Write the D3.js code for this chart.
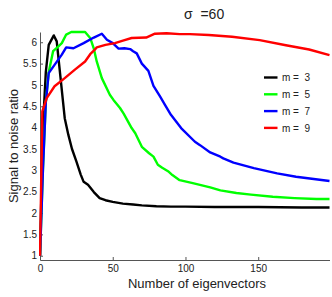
<!DOCTYPE html>
<html>
<head>
<meta charset="utf-8">
<script src="https://cdn.jsdelivr.net/npm/d3@7"></script>
<style>
  body { margin: 0; background: #fff; }
  svg { display: block; font-family: "Liberation Sans", Arial, sans-serif; }
</style>
</head>
<body>
<svg id="chart" width="332" height="297"></svg>
<script>
// series values (x = number of eigenvectors)
const m3X = [0, 2, 4, 6, 9.5, 11.5, 17, 19.5, 22, 25, 28, 30, 33, 37, 41, 45, 50, 57, 64, 70, 80, 90, 100, 120, 150, 180, 199]
const m3Y = [1.0, 4.0, 5.3, 5.94, 6.16, 6.02, 4.22, 3.83, 3.5, 3.21, 2.9, 2.73, 2.66, 2.49, 2.35, 2.3, 2.26, 2.22, 2.2, 2.18, 2.16, 2.15, 2.15, 2.14, 2.14, 2.13, 2.13]

const m5X = [0, 2, 4, 6, 9, 12.5, 15, 18, 21.5, 31, 34.5, 37, 39, 42.5, 48, 50.5, 55, 57.5, 63, 65.5, 70, 75, 78, 81, 84, 88, 91, 96, 105, 117, 124, 135, 145, 160, 175, 190, 199]
const m5Y = [1.0, 3.0, 4.6, 5.3, 5.79, 5.9, 5.98, 6.18, 6.24, 6.24, 6.1, 5.85, 5.55, 5.16, 4.77, 4.65, 4.46, 4.33, 3.99, 3.87, 3.55, 3.4, 3.32, 3.13, 3.06, 2.98, 2.89, 2.77, 2.7, 2.6, 2.53, 2.47, 2.43, 2.38, 2.35, 2.33, 2.33]

const m7X = [0, 2, 4, 6, 10, 15, 18, 23, 30, 37, 42.5, 46, 50, 54, 58, 62, 64, 66.5, 70, 74.5, 78, 82.5, 86, 90, 97, 106.5, 110, 117, 124, 126, 133, 147, 163, 176, 199]
const m7Y = [1.0, 3.0, 4.6, 5.28, 5.47, 5.71, 5.88, 5.86, 5.98, 6.11, 6.2, 6.06, 5.98, 5.85, 5.86, 5.84, 5.79, 5.74, 5.5, 5.33, 4.98, 4.73, 4.53, 4.3, 3.99, 3.67, 3.59, 3.42, 3.32, 3.28, 3.18, 3.05, 2.93, 2.85, 2.75]

const m9X = [0, 1.6, 4.6, 10, 17, 24, 31, 34.5, 37.5, 39, 45, 51.5, 57, 63, 73, 79, 87, 96, 103, 116, 132, 151, 169, 185, 199]
const m9Y = [1.0, 4.38, 4.69, 4.97, 5.16, 5.36, 5.55, 5.72, 5.82, 5.88, 5.94, 5.98, 6.04, 6.1, 6.11, 6.2, 6.21, 6.19, 6.19, 6.17, 6.13, 6.05, 5.93, 5.83, 5.7]

const seriesNames = ["m =  3", "m =  5", "m =  7", "m =  9"]
const seriesColors = ["#000000", "#00ff00", "#0000ff", "#ff0000"]
const xTicks = [0, 50, 100, 150]
const yTicks = [1, 1.5, 2, 2.5, 3, 3.5, 4, 4.5, 5, 5.5, 6]

const series = [[m3X, m3Y], [m5X, m5Y], [m7X, m7Y], [m9X, m9Y]].map((s, i) => ({
  name: seriesNames[i],
  color: seriesColors[i],
  points: s[0].map((x, j) => [x, s[1][j]])
}))

const svg = d3.select("#chart")
svg.append("rect").attr("width", 332).attr("height", 297).attr("fill", "#fff")

const x = d3.scaleLinear().domain([0, 199]).range([40, 329.5])
const y = d3.scaleLinear().domain([0.9, 6.24]).range([260, 32])

svg.append("clipPath").attr("id", "plot-clip")
  .append("rect").attr("x", 39).attr("y", 30).attr("width", 292).attr("height", 231)

// axes, ticks pointing inward
const xAxis = svg.append("g").attr("transform", "translate(0,260)")
  .call(d3.axisBottom(x).tickValues(xTicks).tickFormat(d => String(d))
    .tickSizeInner(-3).tickSizeOuter(0).tickPadding(5))
const yAxis = svg.append("g").attr("transform", "translate(40,0)")
  .call(d3.axisLeft(y).tickValues(yTicks).tickFormat(d => String(d))
    .tickSizeInner(-3).tickSizeOuter(0).tickPadding(3))

for (const ax of [xAxis, yAxis]) {
  ax.select(".domain").attr("stroke", "#555")
  ax.selectAll(".tick line").attr("stroke", "#555")
  ax.selectAll(".tick text").attr("fill", "#222").style("font-size", "10px")
    .style("font-family", "'Liberation Sans', Arial, sans-serif")
}

// lines
const line = d3.line().x(d => x(d[0])).y(d => y(d[1]))
const lines = svg.append("g").attr("clip-path", "url(#plot-clip)")
series.forEach(s => {
  lines.append("path")
    .attr("d", line(s.points))
    .attr("fill", "none")
    .attr("stroke", s.color)
    .attr("stroke-width", 2.4)
    .attr("stroke-linejoin", "round")
})

// title and axis labels
svg.append("text")
  .attr("x", 184).attr("y", 18.5)
  .attr("xml:space", "preserve")
  .style("font-size", "14px").attr("fill", "#222")
  .text("σ  =60")

svg.append("text")
  .attr("x", 197).attr("y", 287.5)
  .attr("text-anchor", "middle")
  .style("font-size", "13px").attr("fill", "#222")
  .text("Number of eigenvectors")

svg.append("text")
  .attr("transform", "translate(18,146) rotate(-90)")
  .attr("text-anchor", "middle")
  .style("font-size", "13px").attr("fill", "#222")
  .text("Signal to noise ratio")

// legend
const legend = svg.append("g")
series.forEach((s, i) => {
  const ly = 77.5 + i * 16.8
  legend.append("line")
    .attr("x1", 264).attr("x2", 277.5)
    .attr("y1", ly).attr("y2", ly)
    .attr("stroke", s.color).attr("stroke-width", 2.4)
  legend.append("text")
    .attr("x", 282).attr("y", ly + 3.6)
    .attr("xml:space", "preserve")
    .style("font-size", "10px").attr("fill", "#222")
    .text(s.name)
})
</script>
</body>
</html>
